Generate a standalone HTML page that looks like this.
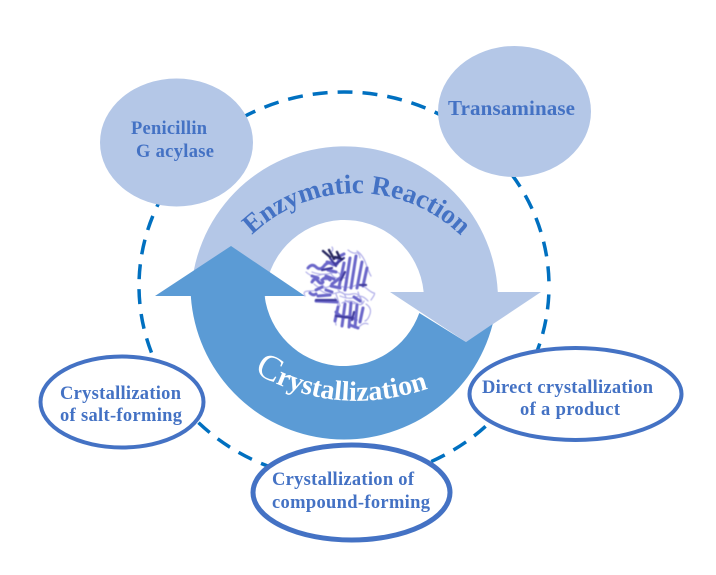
<!DOCTYPE html>
<html><head><meta charset="utf-8"><style>
html,body{margin:0;padding:0;background:#fff}
svg{display:block}
.t{font-family:"Liberation Serif",serif;font-weight:bold;font-size:18.500px;fill:#4472c4}
</style></head><body>
<svg width="716" height="575" viewBox="0 0 716 575" xmlns="http://www.w3.org/2000/svg">
<rect width="716" height="575" fill="#fff"/>
<ellipse cx="344" cy="286" rx="205" ry="194" fill="none" stroke="#0070c0" stroke-width="3.500" stroke-dasharray="15 10" stroke-dashoffset="16.500"/>
<path d="M191 299.500A153.500 153.500 0 0 1 497.800 292H541L466 342L390 292H423.650A79.500 79.500 0 0 0 265 299.500Z" fill="#b4c7e7"/>
<path d="M155 296L231 246L305 296H264.600A80 80 0 0 0 419.300 313L466 342L492.720 324A153.500 153.500 0 0 1 190.830 296Z" fill="#5b9bd5"/>
<defs>
<path id="a" d="M252 235A150 150 0 0 1 460 235"/>
<path id="b" d="M254 372Q335 420 430 388"/>
<filter id="f" x="-10%" y="-10%" width="120%" height="120%"><feGaussianBlur stdDeviation="0.500"/></filter>
</defs>
<text font-family="Liberation Serif,serif" font-weight="bold" font-size="27" fill="#4472c4"><textPath href="#a" textLength="231" lengthAdjust="spacing">Enzymatic Reaction</textPath></text>
<text font-family="Liberation Serif,serif" font-weight="bold" font-size="28" fill="#fff"><textPath href="#b" textLength="181" lengthAdjust="spacing"><tspan font-size="36" font-weight="normal">C</tspan>rystallization</textPath></text>
<g filter="url(#f)" fill="none" stroke-linecap="round">
<g stroke="#b0aee8" stroke-width="1.200">
<path d="M332 247q2 3-1 5M348 250q5 4 8 3t4 5M357 251q6 4 9 13t5 12M306 272q6 6 14 3t6 5M312 279q8-3 10 4t8 3M305 296q-3-5 4-5t8-1"/>
<path d="M340 286q8 3 14 0t12 2t8 5t-3 7M335 298q5 8 2 13t-1 14M366 304q6 4 4 10t-5 7M352 325q4 5 8 1t8-2M330 272q4 8 12 6t4 10"/>
<path d="M312 272q10 4 20 1t8 6M320 290q8 6 16 3t10 5M340 296q10 4 16 1t12 4M345 300q6 5 12 3M314 284q5 5 12 4M338 290q6 6 14 4t10 8M342 303q8-4 14 0t8-2M336 294l4 12M358 292l4 12"/>
</g>
<g stroke="#6a66c9" stroke-width="3">
<path d="M308 268q4-5 8-1t8-1t8-2t7-4"/>
<path d="M312 282q3-5 6-1t5 1M326 276l8 3M331 286l9 2M316 290l6-3M328 270l8 2M322 280q4-4 8 0M312 276l6 2M326 290l6 2"/>
<path d="M316 301l21 1M318 296l12-1M310 293q3 3 6 1"/>
<path d="M344 263l-5 24M350 258l-5 32M356 256l-5 32M362 262l-5 26M367 268l-4 18"/>
<path d="M338 307l-3 14M345 304l-3 22M351 303l-2 24M357 305l-2 22M363 308l-3 14"/><path d="M336 312q5 6 10 5t10 3M350 325l8 3M354 297l6 4"/>
<path d="M336 258l8-4M327 262l10 2M340 278l-8 6"/>
</g>
<g stroke="#3f3a9c" stroke-width="2.200">
<path d="M330 258l6 8M336 264l8-6M322 270l10-2M345 272l-4 8"/><path d="M316 300l20 0M336 316l16 2M366 285l-6 0M354 312l-2 8"/>
</g>
<g stroke="#28285f" stroke-width="2.400"><path d="M323 251l7 6M329 250l5 9M335 257l7 2M337 252l3 6"/></g>
</g>
<ellipse cx="176.500" cy="142.500" rx="76.500" ry="64" fill="#b4c7e7"/>
<ellipse cx="514.500" cy="111.500" rx="76.500" ry="65.500" fill="#b4c7e7"/>
<ellipse cx="122" cy="402" rx="81.500" ry="45.500" fill="#fff" stroke="#4472c4" stroke-width="4"/>
<ellipse cx="351.500" cy="492.500" rx="98.500" ry="47.500" fill="#fff" stroke="#4472c4" stroke-width="5"/>
<ellipse cx="575.500" cy="394" rx="106" ry="46" fill="#fff" stroke="#4472c4" stroke-width="4"/>
<text class="t" x="131" y="134" textLength="76" lengthAdjust="spacing">Penicillin</text>
<text class="t" x="136" y="157" textLength="78" lengthAdjust="spacing">G acylase</text>
<text class="t" x="448" y="115" style="font-size:21px" textLength="127" lengthAdjust="spacing">Transaminase</text>
<text class="t" x="60" y="399" textLength="121" lengthAdjust="spacing">Crystallization</text>
<text class="t" x="60" y="421" textLength="122" lengthAdjust="spacing">of salt-forming</text>
<text class="t" x="272" y="485" textLength="142" lengthAdjust="spacing">Crystallization of</text>
<text class="t" x="272" y="508" textLength="158" lengthAdjust="spacing">compound-forming</text>
<text class="t" x="482" y="393" textLength="171" lengthAdjust="spacing">Direct crystallization</text>
<text class="t" x="520" y="415" textLength="100" lengthAdjust="spacing">of a product</text>
</svg>
</body></html>
